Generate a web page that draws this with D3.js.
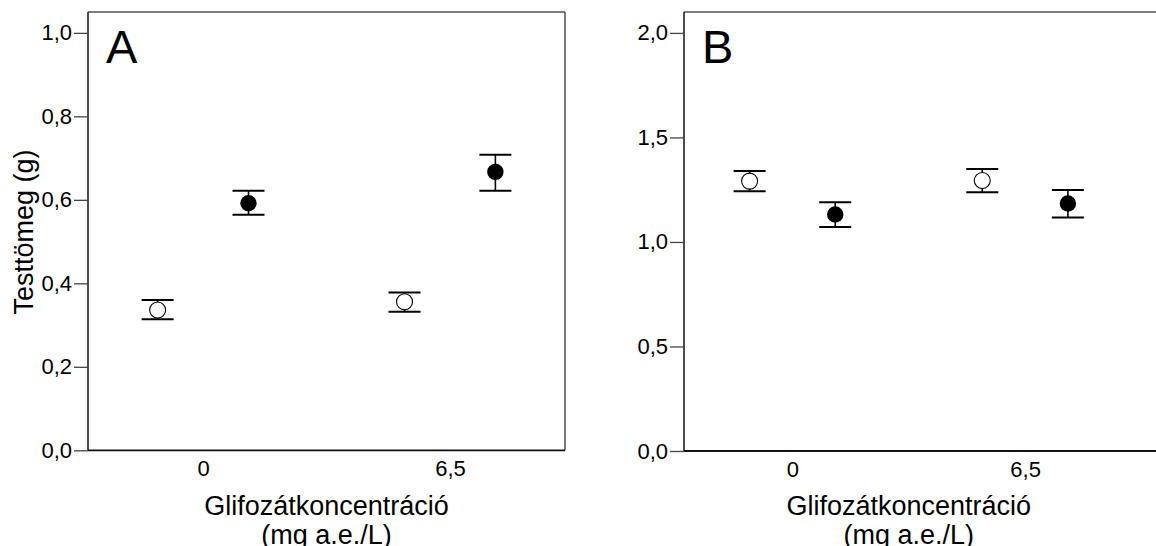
<!DOCTYPE html>
<html>
<head>
<meta charset="utf-8">
<script src="https://cdn.jsdelivr.net/npm/d3@7"></script>
<style>
  body { margin: 0; background: #fff; }
  svg { display: block; font-family: "Liberation Sans", Arial, sans-serif; }
</style>
</head>
<body>
<div class="visualisation"></div>
<script>
// Data
const groups = ["0", "6,5"];

// Panel A (open = first series, filled = second series)
const aOpenMean = [0.336, 0.356];
const aOpenLow = [0.314, 0.332];
const aOpenHigh = [0.360, 0.378];
const aFillMean = [0.592, 0.667];
const aFillLow = [0.564, 0.622];
const aFillHigh = [0.622, 0.708];
const aTicks = [0, 0.2, 0.4, 0.6, 0.8, 1.0];

// Panel B
const bOpenMean = [1.291, 1.294];
const bOpenLow = [1.243, 1.238];
const bOpenHigh = [1.339, 1.349];
const bFillMean = [1.131, 1.184];
const bFillLow = [1.072, 1.117];
const bFillHigh = [1.190, 1.248];
const bTicks = [0, 0.5, 1.0, 1.5, 2.0];

const width = 1156;
const height = 546;
const fmt = d => d3.format(".1f")(d).replace(".", ",");

const svg = d3.select(".visualisation")
    .append("svg")
    .attr("width", width)
    .attr("height", height);

function series(mean, low, high, filled) {
    return mean.map((m, i) => ({ group: groups[i], mean: m, low: low[i], high: high[i], filled: filled }));
}

function drawPanel(opt) {
    const g = svg.append("g");

    const x = d3.scalePoint()
        .domain(groups)
        .range([opt.left, opt.axisRight])
        .padding(0.466);
    const dodge = x.step() * 0.184;

    const y = d3.scaleLinear()
        .domain([0, opt.yMax])
        .range([opt.bottom, opt.top]);

    // frame: top/right thin, left/bottom dark
    g.append("line")
        .attr("x1", opt.left).attr("x2", opt.frameRight)
        .attr("y1", opt.top).attr("y2", opt.top)
        .attr("stroke", "#555").attr("stroke-width", 1.3);
    g.append("line")
        .attr("x1", opt.frameRight).attr("x2", opt.frameRight)
        .attr("y1", opt.top).attr("y2", opt.bottom)
        .attr("stroke", "#333").attr("stroke-width", 1.3);
    g.append("line")
        .attr("x1", opt.left).attr("x2", opt.left)
        .attr("y1", opt.top).attr("y2", opt.bottom)
        .attr("stroke", "#111").attr("stroke-width", 1.5);
    g.append("line")
        .attr("x1", opt.left).attr("x2", opt.frameRight)
        .attr("y1", opt.bottom).attr("y2", opt.bottom)
        .attr("stroke", "#111").attr("stroke-width", 1.8);

    // y axis
    const yAxis = g.append("g")
        .attr("transform", `translate(${opt.left},0)`)
        .call(d3.axisLeft(y).tickValues(opt.ticks).tickSize(14).tickPadding(2).tickFormat(fmt));
    yAxis.select(".domain").remove();
    yAxis.selectAll(".tick line").attr("stroke", "#444").attr("stroke-width", 1.3);
    yAxis.selectAll(".tick text")
        .attr("font-size", 22)
        .attr("fill", "#000")
        .attr("font-family", "Liberation Sans, Arial, sans-serif");

    // x axis labels
    const xAxis = g.append("g")
        .attr("transform", `translate(0,${opt.bottom})`)
        .call(d3.axisBottom(x).tickSize(0).tickPadding(10));
    xAxis.select(".domain").remove();
    xAxis.selectAll(".tick text")
        .attr("font-size", 22)
        .attr("fill", "#000")
        .attr("font-family", "Liberation Sans, Arial, sans-serif");

    // x title
    const cx = (opt.left + opt.axisRight) / 2;
    g.append("text")
        .attr("x", cx).attr("y", 515)
        .attr("text-anchor", "middle")
        .attr("font-size", 27)
        .text("Glifozátkoncentráció");
    g.append("text")
        .attr("x", cx).attr("y", 544)
        .attr("text-anchor", "middle")
        .attr("font-size", 27)
        .text("(mg a.e./L)");

    // panel letter
    g.append("text")
        .attr("x", opt.left + 18).attr("y", 63)
        .attr("font-size", 47)
        .text(opt.letter);

    const data = opt.data;
    const px = d => x(d.group) + (d.filled ? dodge : -dodge);

    const pts = g.selectAll("g.pt")
        .data(data)
        .enter()
        .append("g")
        .attr("class", "pt");

    pts.append("line")
        .attr("x1", px).attr("x2", px)
        .attr("y1", d => y(d.low)).attr("y2", d => y(d.high))
        .attr("stroke", "#000").attr("stroke-width", 1.6);
    pts.append("line")
        .attr("x1", d => px(d) - 16).attr("x2", d => px(d) + 16)
        .attr("y1", d => y(d.high)).attr("y2", d => y(d.high))
        .attr("stroke", "#000").attr("stroke-width", 2);
    pts.append("line")
        .attr("x1", d => px(d) - 16).attr("x2", d => px(d) + 16)
        .attr("y1", d => y(d.low)).attr("y2", d => y(d.low))
        .attr("stroke", "#000").attr("stroke-width", 2);
    pts.append("circle")
        .attr("cx", px)
        .attr("cy", d => y(d.mean))
        .attr("r", d => d.filled ? 8.2 : 8)
        .attr("fill", d => d.filled ? "#000" : "#fff")
        .attr("stroke", "#000")
        .attr("stroke-width", d => d.filled ? 0 : 1.1);
}

drawPanel({
    letter: "A",
    left: 88, axisRight: 565, frameRight: 565,
    top: 12, bottom: 450.3, yMax: 1.05,
    ticks: aTicks,
    data: series(aOpenMean, aOpenLow, aOpenHigh, false)
        .concat(series(aFillMean, aFillLow, aFillHigh, true))
});

drawPanel({
    letter: "B",
    left: 684, axisRight: 1133.5, frameRight: 1170,
    top: 12, bottom: 451, yMax: 2.1,
    ticks: bTicks,
    data: series(bOpenMean, bOpenLow, bOpenHigh, false)
        .concat(series(bFillMean, bFillLow, bFillHigh, true))
});

// y title (panel A only)
svg.append("text")
    .attr("transform", "translate(33,232) rotate(-90)")
    .attr("text-anchor", "middle")
    .attr("font-size", 27)
    .text("Testtömeg (g)");
</script>
</body>
</html>
